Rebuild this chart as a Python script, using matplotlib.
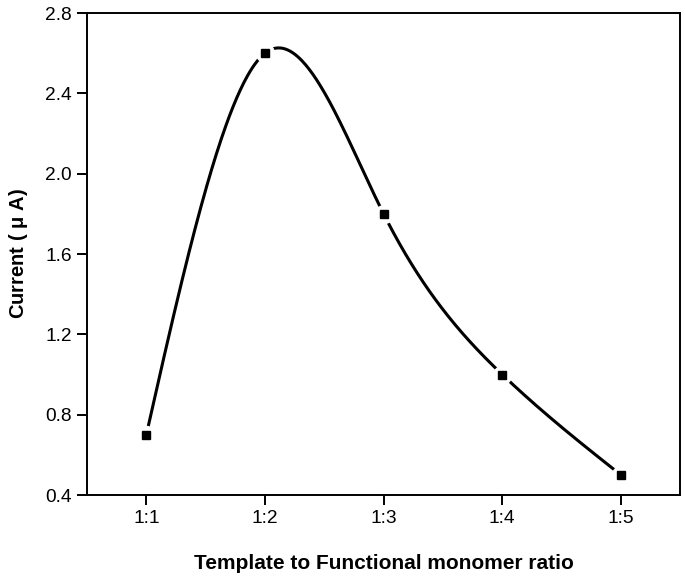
import numpy as np
import matplotlib
matplotlib.use("Agg")
import matplotlib.pyplot as plt

categories = ["1:1", "1:2", "1:3", "1:4", "1:5"]
current = [0.7, 2.6, 1.8, 1.0, 0.5]
yticks = [0.4, 0.8, 1.2, 1.6, 2.0, 2.4, 2.8]

plt.rcParams['font.family'] = ['Liberation Sans', 'DejaVu Sans']
plt.rcParams['mathtext.fontset'] = 'custom'
plt.rcParams['mathtext.rm'] = 'Liberation Sans'
plt.rcParams['mathtext.it'] = 'Liberation Sans'
plt.rcParams['mathtext.default'] = 'regular'


def natural_spline(x, y, n=400):
    x = np.asarray(x, float)
    y = np.asarray(y, float)
    k = len(x)
    h = np.diff(x)
    A = np.zeros((k, k))
    b = np.zeros(k)
    A[0, 0] = 1
    A[-1, -1] = 1
    for i in range(1, k - 1):
        A[i, i - 1] = h[i - 1]
        A[i, i] = 2 * (h[i - 1] + h[i])
        A[i, i + 1] = h[i]
        b[i] = 6 * ((y[i + 1] - y[i]) / h[i] - (y[i] - y[i - 1]) / h[i - 1])
    M = np.linalg.solve(A, b)
    xs = np.linspace(x[0], x[-1], n)
    ys = np.empty_like(xs)
    for j, xv in enumerate(xs):
        i = min(np.searchsorted(x, xv, side='right') - 1, k - 2)
        t1 = x[i + 1] - xv
        t0 = xv - x[i]
        ys[j] = (M[i] * t1 ** 3 / (6 * h[i]) + M[i + 1] * t0 ** 3 / (6 * h[i])
                 + (y[i] / h[i] - M[i] * h[i] / 6) * t1
                 + (y[i + 1] / h[i] - M[i + 1] * h[i] / 6) * t0)
    return xs, ys


fig = plt.figure(figsize=(6.85, 5.81), dpi=100)
ax = fig.add_axes([0.127, 0.148, 0.866, 0.8296])

xpos = np.arange(1, len(categories) + 1)
sx, sy = natural_spline(xpos, current)
ax.plot(sx, sy, color='black', lw=2.2, zorder=2, solid_capstyle='butt')
ax.plot(xpos, current, linestyle='none', marker='o', ms=13, mfc='white',
        mec='white', zorder=3)
ax.plot(xpos, current, linestyle='none', marker='s', ms=6, mfc='black',
        mec='black', zorder=4)

ax.set_xlim(0.5, 5.5)
ax.set_ylim(0.4, 2.8)
ax.set_xticks(xpos)
ax.set_xticklabels(categories)
ax.set_yticks(yticks)
ax.set_yticklabels([f"{v:.1f}" for v in yticks])
ax.tick_params(direction='out', length=7, width=1.4, labelsize=13.8,
               colors='black', pad=4)
for s in ax.spines.values():
    s.set_linewidth(1.4)

ax.set_xlabel("Template to Functional monomer ratio", fontsize=15,
              fontweight='bold', labelpad=19)
ax.set_ylabel(r"Current ( $\mu$ A)", fontsize=14.5, fontweight='bold',
              labelpad=11)

fig.savefig("out.png", dpi=100)
